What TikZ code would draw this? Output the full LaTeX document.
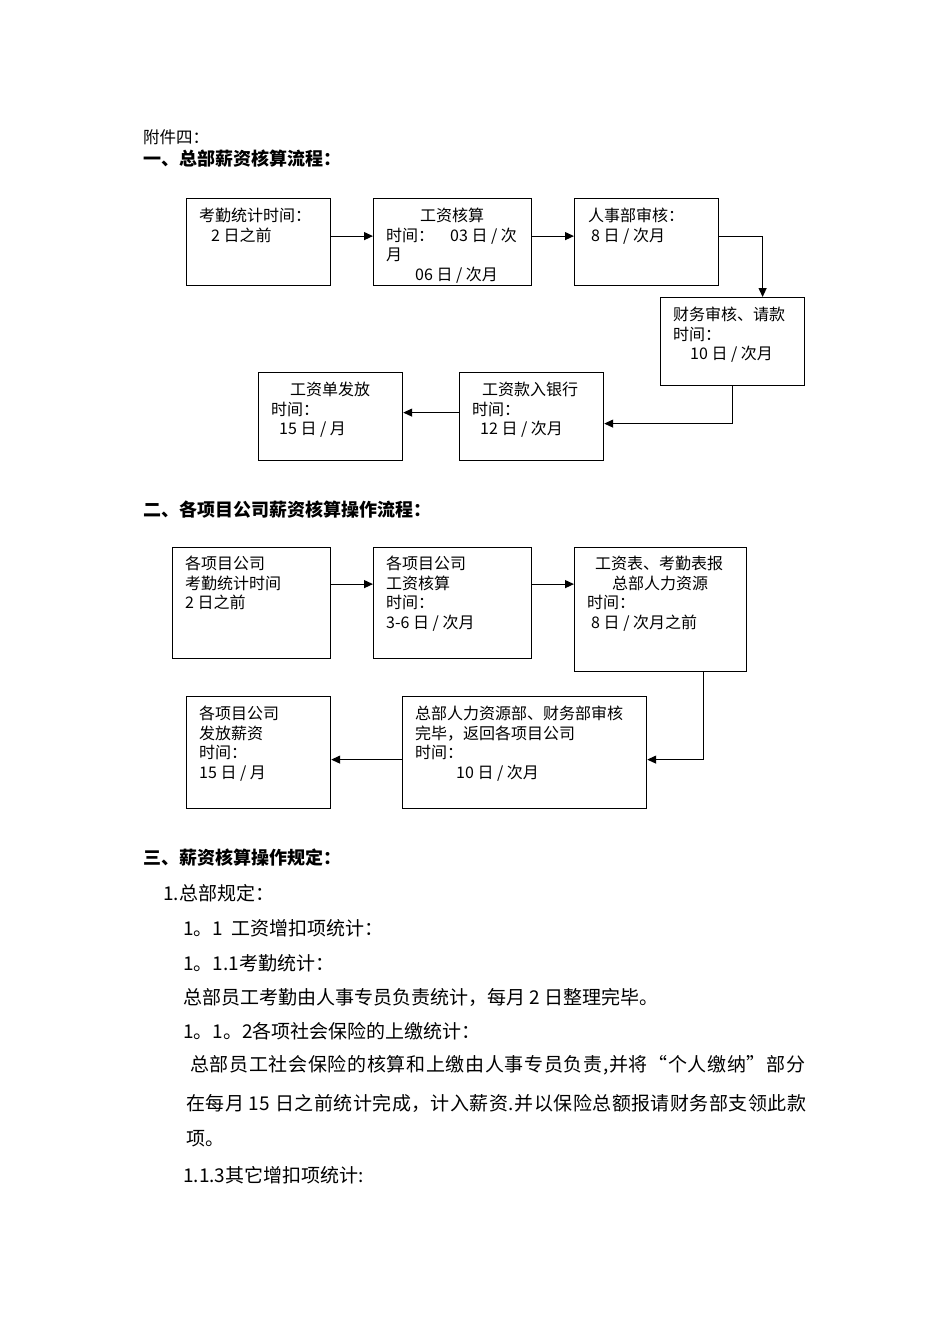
\documentclass[tikz,border=0pt]{standalone}
\usepackage{fontspec}
\usepackage{tikz}
\usetikzlibrary{calc,arrows.meta}
\setmainfont{Noto Sans CJK SC}

\begin{document}
\begin{tikzpicture}[x=1pt,y=-1pt,
 box/.style={draw,line width=1.2pt,anchor=north west,inner sep=0pt},
 boxtext/.style={anchor=north west,align=left,inner sep=0pt,font=\fontsize{16}{19.5}\selectfont},
 bodyline/.style={anchor=west,inner sep=0pt,font=\fontsize{19}{22}\selectfont},
 heading/.style={anchor=west,inner sep=0pt,font=\bfseries\fontsize{18}{22}\selectfont},
 link/.style={-{Triangle[length=9pt,width=8pt]},line width=1.2pt}]

 \useasboundingbox (0,0) rectangle (950,1344);

 \node[bodyline,font=\fontsize{16.5}{20}\selectfont] (h0) at (143,137) {附件四：};
 \node[heading] (h1) at (143,159) {一、总部薪资核算流程：};

 % section one
 \node[box,minimum width=144pt,minimum height=87pt] (a1) at (186,198) {};
 \node[box,minimum width=158pt,minimum height=87pt] (a2) at (373,198) {};
 \node[box,minimum width=144pt,minimum height=87pt] (a3) at (574,198) {};
 \node[box,minimum width=144pt,minimum height=88pt] (a4) at (660,297) {};
 \node[box,minimum width=144pt,minimum height=88pt] (a5) at (459,372) {};
 \node[box,minimum width=144pt,minimum height=88pt] (a6) at (258,372) {};

 \node[boxtext] (a1t) at ($(a1.north west)+(13,10)$) {考勤统计时间：\\\hspace*{12pt}2 日之前};
 \node[boxtext] (a2t) at ($(a2.north west)+(13,10)$) {\hspace*{34pt}工资核算\\时间：\hspace*{16pt}03 日 / 次\\月\\\hspace*{29pt}06 日 / 次月};
 \node[boxtext] (a3t) at ($(a3.north west)+(14,10)$) {人事部审核：\\\hspace*{3pt}8 日 / 次月};
 \node[boxtext] (a4t) at ($(a4.north west)+(13,10)$) {财务审核、请款\\时间：\\\hspace*{17pt}10 日 / 次月};
 \node[boxtext] (a5t) at ($(a5.north west)+(13,10)$) {\hspace*{10pt}工资款入银行\\时间：\\\hspace*{8pt}12 日 / 次月};
 \node[boxtext] (a6t) at ($(a6.north west)+(13,10)$) {\hspace*{19pt}工资单发放\\时间：\\\hspace*{8pt}15 日 / 月};

 \draw[link] ([yshift=6pt]a1.east) -- ([yshift=6pt]a2.west);
 \draw[link] ([yshift=6pt]a2.east) -- ([yshift=6pt]a3.west);
 \draw[link] ([yshift=6pt]a3.east) -| ([xshift=30pt]a4.north);
 \draw[link] (a4.south) |- ([yshift=-7pt]a5.east);
 \draw[link] ([yshift=4pt]a5.west) -- ([yshift=4pt]a6.east);

 % section two
 \node[heading] (h2) at (143,510) {二、各项目公司薪资核算操作流程：};

 \node[box,minimum width=158pt,minimum height=111pt] (b1) at (172,547) {};
 \node[box,minimum width=158pt,minimum height=111pt] (b2) at (373,547) {};
 \node[box,minimum width=172pt,minimum height=124pt] (b3) at (574,547) {};
 \node[box,minimum width=244pt,minimum height=112pt] (b4) at (402,696) {};
 \node[box,minimum width=144pt,minimum height=112pt] (b5) at (186,696) {};

 \node[boxtext] (b1t) at ($(b1.north west)+(13,9)$) {各项目公司\\考勤统计时间\\2 日之前};
 \node[boxtext] (b2t) at ($(b2.north west)+(13,9)$) {各项目公司\\工资核算\\时间：\\3-6 日 / 次月};
 \node[boxtext] (b3t) at ($(b3.north west)+(13,9)$) {\hspace*{8pt}工资表、考勤表报\\\hspace*{25pt}总部人力资源\\时间：\\\hspace*{4pt}8 日 / 次月之前};
 \node[boxtext] (b4t) at ($(b4.north west)+(13,10)$) {总部人力资源部、财务部审核\\完毕，返回各项目公司\\时间：\\\hspace*{41pt}10 日 / 次月};
 \node[boxtext] (b5t) at ($(b5.north west)+(13,10)$) {各项目公司\\发放薪资\\时间：\\15 日 / 月};

 \draw[link] ([yshift=19pt]b1.east) -- ([yshift=19pt]b2.west);
 \draw[link] ([yshift=19pt]b2.east) -- ([yshift=25.5pt]b3.west);
 \draw[link] ([xshift=43pt]b3.south) |- ([yshift=-7pt]b4.east);
 \draw[link] ([yshift=-7pt]b4.west) -- ([yshift=-7pt]b5.east);

 % section three
 \node[heading] (h3) at (143,858) {三、薪资核算操作规定：};

 \node[bodyline] (l1) at (163,893) {1.总部规定：};
 \node[bodyline] (l2) at (183,928) {1。1\hspace*{8pt}工资增扣项统计：};
 \node[bodyline] (l3) at (183,963) {1。1.1考勤统计：};
 \node[bodyline] (l4) at (183,997) {总部员工考勤由人事专员负责统计，每月 2 日整理完毕。};
 \node[bodyline] (l5) at (183,1031) {1。1。2各项社会保险的上缴统计：};
 \node[bodyline] (l6) at (190,1065) {\addfontfeatures{LetterSpace=3.5}总部员工社会保险的核算和上缴由人事专员负责,并将“个人缴纳”部分};
 \node[bodyline] (l7) at (186,1103) {\addfontfeatures{LetterSpace=2.5}在每月 15 日之前统计完成，计入薪资.并以保险总额报请财务部支领此款};
 \node[bodyline] (l8) at (186,1139) {项。};
 \node[bodyline] (l9) at (183,1175) {1.1.3其它增扣项统计:};

\end{tikzpicture}
\end{document}
